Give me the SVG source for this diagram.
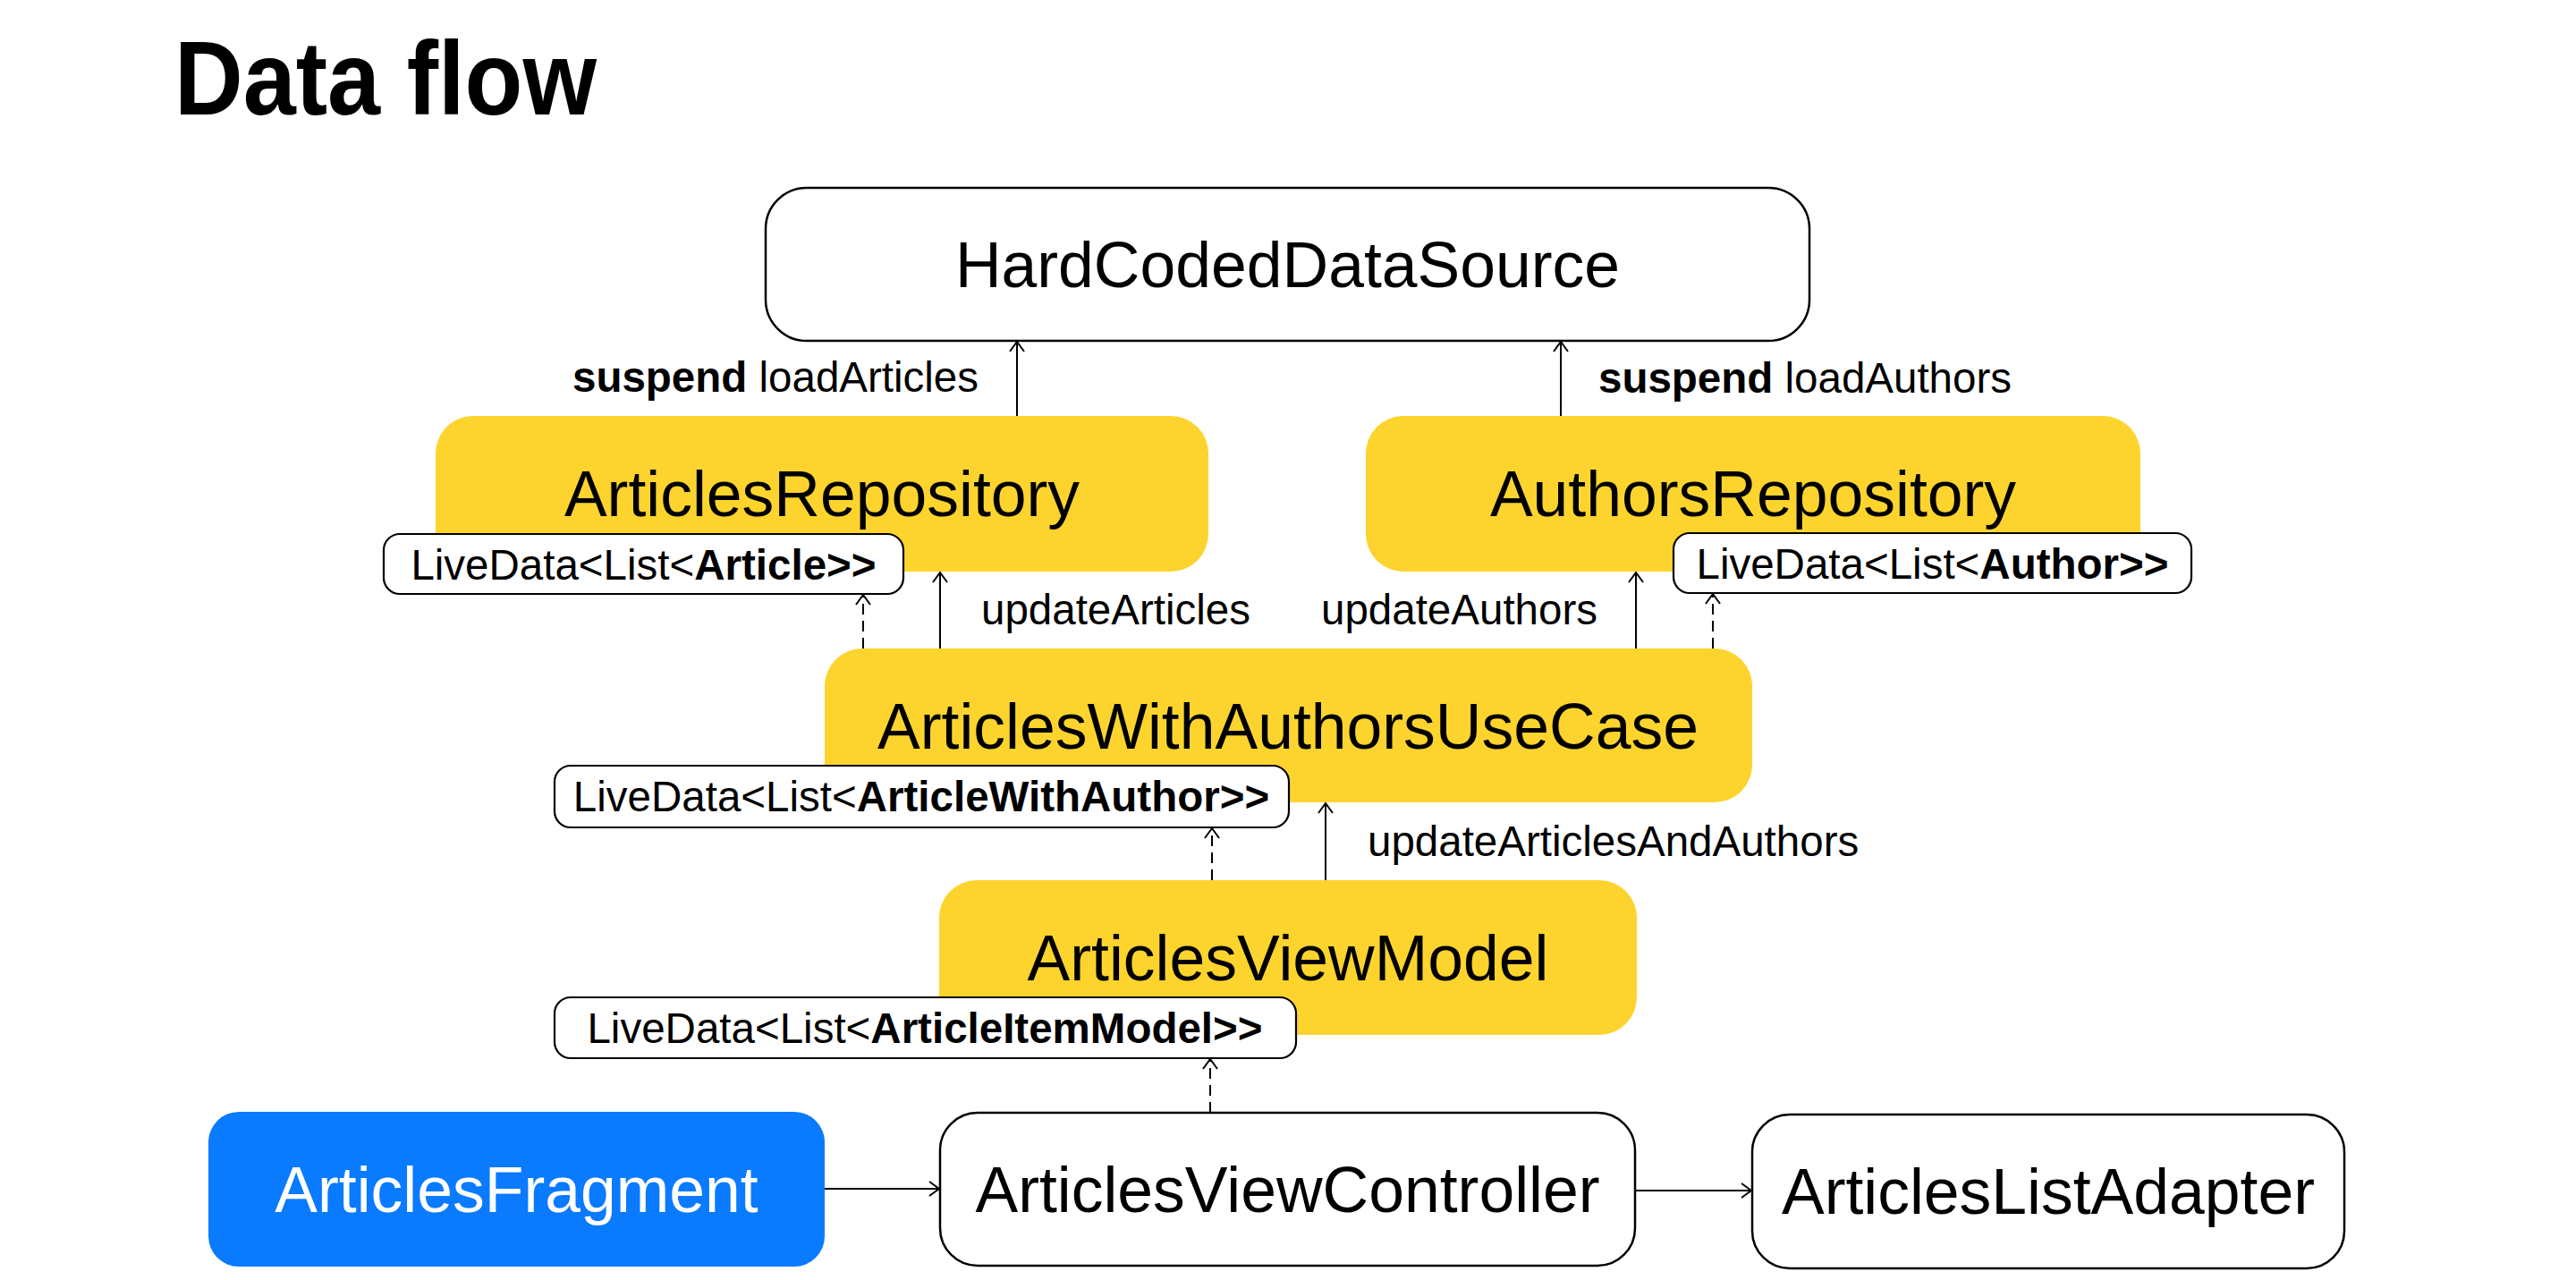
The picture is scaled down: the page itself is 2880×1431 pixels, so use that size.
<svg xmlns="http://www.w3.org/2000/svg" width="2880" height="1431" viewBox="0 0 2880 1431">
<style>
text { font-family: "Liberation Sans", Arial, Helvetica, sans-serif; fill: #000; }
.title { font-size: 116px; font-weight: bold; }
.nt { font-size: 71.5px; text-anchor: middle; }
.lbl { font-size: 47.5px; }
.ldt { font-size: 47.5px; text-anchor: middle; }
.b { font-weight: bold; }
.white { fill: #fff; stroke: #000; stroke-width: 2.5; }
.yellow { fill: #FDD42D; }
.blue { fill: #0A7AFF; }
.ld { fill: #fff; stroke: #000; stroke-width: 2.2; }
.c { stroke: #000; stroke-width: 2; fill: none; marker-end: url(#arr); }
.d { stroke-dasharray: 12 7; }
</style>
<defs>
<marker id="arr" markerUnits="userSpaceOnUse" viewBox="0 0 13 18" refX="12" refY="9" markerWidth="13" markerHeight="18" orient="auto">
<path d="M1,1 L12,9 L1,17" fill="none" stroke="#000" stroke-width="2"/>
</marker>
</defs>
<rect x="0" y="0" width="2880" height="1431" fill="#fff"/>
<text class="title" x="195" y="128" textLength="472" lengthAdjust="spacingAndGlyphs">Data flow</text>

<g id="HardCodedDataSource">
<rect class="white" x="856" y="210" width="1167" height="171" rx="46"/>
<text class="nt" x="1439.5" y="321">HardCodedDataSource</text>
</g>
<g id="ArticlesRepository">
<rect class="yellow" x="487" y="465" width="864" height="174" rx="42"/>
<text class="nt" x="919" y="577">ArticlesRepository</text>
</g>
<g id="AuthorsRepository">
<rect class="yellow" x="1527" y="465" width="866" height="174" rx="42"/>
<text class="nt" x="1960" y="577">AuthorsRepository</text>
</g>
<g id="LiveDataArticle">
<rect class="ld" x="429" y="597" width="581" height="67" rx="18"/>
<text class="ldt" x="719.5" y="647.5">LiveData&lt;List&lt;<tspan class="b">Article&gt;&gt;</tspan></text>
</g>
<g id="LiveDataAuthor">
<rect class="ld" x="1871" y="596" width="579" height="67" rx="18"/>
<text class="ldt" x="2160.5" y="646.5">LiveData&lt;List&lt;<tspan class="b">Author&gt;&gt;</tspan></text>
</g>
<g id="ArticlesWithAuthorsUseCase">
<rect class="yellow" x="922" y="725" width="1037" height="172" rx="42"/>
<text class="nt" x="1440" y="837">ArticlesWithAuthorsUseCase</text>
</g>
<g id="LiveDataArticleWithAuthor">
<rect class="ld" x="620" y="856" width="821" height="69" rx="18"/>
<text class="ldt" x="1030" y="907">LiveData&lt;List&lt;<tspan class="b">ArticleWithAuthor&gt;&gt;</tspan></text>
</g>
<g id="ArticlesViewModel">
<rect class="yellow" x="1050" y="984" width="780" height="173" rx="42"/>
<text class="nt" x="1440" y="1096">ArticlesViewModel</text>
</g>
<g id="LiveDataArticleItemModel">
<rect class="ld" x="620" y="1115" width="829" height="68" rx="18"/>
<text class="ldt" x="1034" y="1166">LiveData&lt;List&lt;<tspan class="b">ArticleItemModel&gt;&gt;</tspan></text>
</g>
<g id="ArticlesFragment">
<rect class="blue" x="233" y="1243" width="689" height="173" rx="34"/>
<text class="nt" x="577.5" y="1355" style="fill:#fff">ArticlesFragment</text>
</g>
<g id="ArticlesViewController">
<rect class="white" x="1051" y="1244" width="777" height="171" rx="42"/>
<text class="nt" x="1439.5" y="1355">ArticlesViewController</text>
</g>
<g id="ArticlesListAdapter">
<rect class="white" x="1959" y="1246" width="662" height="172" rx="42"/>
<text class="nt" x="2290" y="1357">ArticlesListAdapter</text>
</g>

<g id="connectors">
<path class="c" d="M1137,465 L1137,382"/>
<path class="c" d="M1745,465 L1745,382"/>
<path class="c" d="M1051,725 L1051,640"/>
<path class="c d" d="M965,725 L965,665"/>
<path class="c" d="M1829,725 L1829,640"/>
<path class="c d" d="M1915,725 L1915,664"/>
<path class="c" d="M1482,984 L1482,898"/>
<path class="c d" d="M1355,984 L1355,926"/>
<path class="c d" d="M1353,1244 L1353,1184"/>
<path class="c" d="M922,1329 L1050,1329"/>
<path class="c" d="M1828,1331 L1958,1331"/>
</g>

<g id="labels">
<text class="lbl" x="640" y="438"><tspan class="b">suspend</tspan> loadArticles</text>
<text class="lbl" x="1787" y="439"><tspan class="b">suspend</tspan> loadAuthors</text>
<text class="lbl" x="1097" y="698">updateArticles</text>
<text class="lbl" x="1477" y="698">updateAuthors</text>
<text class="lbl" x="1529" y="957">updateArticlesAndAuthors</text>
</g>
</svg>
